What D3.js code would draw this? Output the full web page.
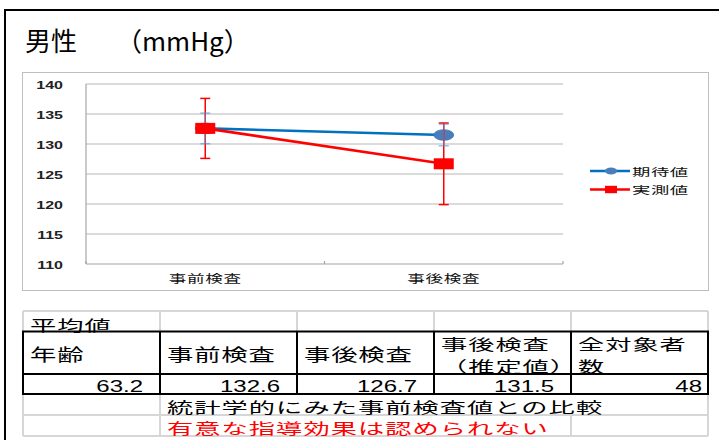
<!DOCTYPE html>
<html><head><meta charset="utf-8">
<script src="https://cdn.jsdelivr.net/npm/d3@7"></script>
<style>body{margin:0;background:#fff}svg{display:block}</style>
</head><body><svg id="c" width="719" height="440"></svg>
<script>
const categories = ["事前検査", "事後検査"];
const seriesNames = ["期待値", "実測値"];
const expectedValues = [132.6, 131.5];
const expectedErrors = [2.55, 1.8];
const measuredValues = [132.6, 126.7];
const measuredErrors = [5.0, 6.8];
const yTicks = [110, 115, 120, 125, 130, 135, 140];
const titleParts = ["男性　", "（mmHg）"];
const tableCaption = "平均値";
const tableHeaders = [["年齢"], ["事前検査"], ["事後検査"], ["事後検査", "（推定値）"], ["全対象者", "数"]];
const tableValues = [63.2, 132.6, 126.7, 131.5, 48];
const comparisonText = "統計学的にみた事前検査値との比較";
const resultText = "有意な指導効果は認められない";

const CJK = "'Noto Sans CJK JP', sans-serif";
const LAT = "'Liberation Sans', Arial, sans-serif";
const BLUE = "#0070C0", BLUE_M = "#4a7ebb", RED = "#FF0000";
const svg = d3.select("#c");
svg.append("rect").attr("width", 719).attr("height", 440).attr("fill", "#fff");

function stext(g, o) {
  const t = g.append("text")
    .attr("transform", `translate(${o.x},${o.y}) scale(${o.sx || 1},1)`)
    .attr("text-anchor", o.anchor || "start")
    .attr("dominant-baseline", o.baseline || "central")
    .style("font-family", o.family || CJK)
    .style("font-size", o.size + "px")
    .style("font-weight", o.weight || "normal")
    .style("letter-spacing", (o.ls || 0) + "px")
    .attr("fill", o.fill || "#000");
  const lines = Array.isArray(o.text) ? o.text : [o.text];
  lines.forEach((l, j) => t.append("tspan").attr("x", 0).attr("dy", j === 0 ? 0 : (o.lh || 0)).text(l));
  return t;
}

// outer frame
svg.append("path").attr("d", "M5,440 V10 H719").attr("fill", "none").attr("stroke", "#000").attr("stroke-width", 2);
// title
const title = svg.append("text").attr("y", 38.5).attr("dominant-baseline", "central")
  .style("font-family", CJK).style("font-size", "26px").attr("fill", "#000");
title.append("tspan").attr("x", 25).text(titleParts[0]);
title.append("tspan").attr("x", 116).text(titleParts[1]);
// chart box
svg.append("rect").attr("x", 22.5).attr("y", 72.5).attr("width", 686).attr("height", 218)
  .attr("fill", "none").attr("stroke", "#bfbfbf").attr("stroke-width", 1);

const x = d3.scaleBand().domain(categories).range([86, 563]);
const y = d3.scaleLinear().domain([110, 140]).range([264, 84]);
const cx = c => x(c) + x.bandwidth() / 2;
const plot = svg.append("g");

// gridlines
plot.selectAll(".grid").data(yTicks.slice(1)).join("line")
  .attr("x1", x.range()[0]).attr("x2", x.range()[1])
  .attr("y1", d => y(d)).attr("y2", d => y(d))
  .attr("stroke", "#cfcfcf").attr("stroke-width", 1.4);
// axes
plot.append("line").attr("x1", 86).attr("x2", 86).attr("y1", y(140)).attr("y2", y(110)).attr("stroke", "#a6a6a6").attr("stroke-width", 1.2);
plot.append("line").attr("x1", 86).attr("x2", 563).attr("y1", y(110)).attr("y2", y(110)).attr("stroke", "#a6a6a6").attr("stroke-width", 1.2);
const bounds = categories.map(c => x(c)).concat([x.range()[1]]);
plot.selectAll(".xt").data(bounds).join("line")
  .attr("x1", d => d).attr("x2", d => d).attr("y1", y(110)).attr("y2", y(110) - 3)
  .attr("stroke", "#a6a6a6").attr("stroke-width", 1.2);

// y labels
yTicks.forEach(t => stext(plot, {x: 63, y: y(t) + 1, text: t, size: 10, sx: 1.6, anchor: "end", family: LAT, weight: "bold", fill: "#222"}));
// category labels
categories.forEach(c => stext(plot, {x: cx(c), y: 278, text: c, size: 11, sx: 1.6, ls: 0.45, anchor: "middle", fill: "#111"}));

const line = d3.line().x((d, i) => cx(categories[i])).y(d => y(d));

function errBars(vals, errs, color, w, op) {
  vals.forEach((v, i) => {
    const px = cx(categories[i]);
    const g = plot.append("g").attr("stroke", color).attr("stroke-width", w).attr("opacity", op);
    g.append("line").attr("x1", px).attr("x2", px).attr("y1", y(v + errs[i])).attr("y2", y(v - errs[i]));
    [v + errs[i], v - errs[i]].forEach(e => g.append("line").attr("x1", px - 5).attr("x2", px + 5).attr("y1", y(e)).attr("y2", y(e)));
  });
}

// blue series
plot.append("path").datum(expectedValues).attr("d", line).attr("fill", "none").attr("stroke", BLUE).attr("stroke-width", 2.6);
plot.selectAll(".bm").data(expectedValues).join("ellipse")
  .attr("cx", (d, i) => cx(categories[i])).attr("cy", d => y(d)).attr("rx", 10).attr("ry", 5.3)
  .attr("fill", BLUE_M).attr("stroke", "#3f73b3").attr("stroke-width", 0.8);
// red series
plot.append("path").datum(measuredValues).attr("d", line).attr("fill", "none").attr("stroke", RED).attr("stroke-width", 2.6);
errBars(measuredValues, measuredErrors, RED, 1.5, 1);
errBars(expectedValues, expectedErrors, "#5b8fd0", 1.5, 0.6);
plot.selectAll(".rm").data(measuredValues).join("rect")
  .attr("x", (d, i) => cx(categories[i]) - 10).attr("y", d => y(d) - 5.5).attr("width", 20).attr("height", 11)
  .attr("fill", RED);

// legend
const legend = svg.append("g");
seriesNames.forEach((n, i) => {
  const ly = 171 + i * 18.5;
  const c = i === 0 ? BLUE : RED;
  legend.append("line").attr("x1", 590).attr("x2", 630).attr("y1", ly).attr("y2", ly).attr("stroke", c).attr("stroke-width", 2.5);
  if (i === 0) legend.append("ellipse").attr("cx", 611).attr("cy", ly).attr("rx", 6).attr("ry", 3.4).attr("fill", BLUE_M);
  else legend.append("rect").attr("x", 605).attr("y", ly - 3.7).attr("width", 12).attr("height", 7.4).attr("fill", RED);
  stext(legend, {x: 632, y: ly, text: n, size: 10.5, sx: 1.75, ls: 0.3, fill: "#111"});
});

// table
const col = d3.scaleLinear().domain([0, 5]).range([23, 708]);
const rows = [311, 331.5, 374, 394, 415, 436];
const tbl = svg.append("g");
const GRAY = "#d6d6d6";
const hl = (x1, x2, yy, c, w) => tbl.append("line").attr("x1", x1).attr("x2", x2).attr("y1", yy).attr("y2", yy).attr("stroke", c).attr("stroke-width", w);
const vl = (xx, y1, y2, c, w) => tbl.append("line").attr("x1", xx).attr("x2", xx).attr("y1", y1).attr("y2", y2).attr("stroke", c).attr("stroke-width", w);
hl(col(0), col(5), rows[0], GRAY, 2);
d3.range(6).forEach(i => vl(col(i), rows[0], rows[1], GRAY, 2));
hl(col(0), col(5), rows[4], GRAY, 2);
hl(col(0), col(5), rows[5], GRAY, 2);
[0, 1, 5].forEach(i => vl(col(i), rows[3], rows[5], GRAY, 2));
vl(col(4), rows[4], rows[5], GRAY, 2);
tbl.append("rect").attr("x", col(0)).attr("y", rows[1]).attr("width", col(5) - col(0)).attr("height", rows[3] - rows[1])
  .attr("fill", "none").attr("stroke", "#000").attr("stroke-width", 2);
d3.range(1, 5).forEach(i => vl(col(i), rows[1], rows[3], "#000", 2));
hl(col(0), col(5), rows[2], "#000", 2);

stext(tbl, {x: col(0) + 7, y: 323.5, text: tableCaption, size: 15, sx: 1.75, ls: 0.6});
tableHeaders.forEach((h, i) => {
  if (h.length === 1) {
    stext(tbl, {x: col(i) + 7, y: 353.5, text: h, size: 17, sx: 1.55, ls: 0.55});
  } else {
    stext(tbl, {x: col(i) + 7, y: 343, text: h, size: 15, sx: 1.75, ls: 0.55, lh: 22});
  }
});
tableValues.forEach((v, i) => {
  const s = Number.isInteger(v) ? d3.format("d")(v) : d3.format(".1f")(v);
  const pad = Number.isInteger(v) ? 6 : 17;
  stext(tbl, {x: col(i + 1) - pad, y: 391.7, text: s, size: 16, sx: 1.5, anchor: "end", baseline: "alphabetic", family: LAT});
});
stext(tbl, {x: col(1) + 7, y: 406.2, text: comparisonText, size: 15, sx: 1.75, ls: 0.6});
stext(tbl, {x: col(1) + 7, y: 426.5, text: resultText, size: 15, sx: 1.75, ls: 0.6, fill: RED});
</script></body></html>
